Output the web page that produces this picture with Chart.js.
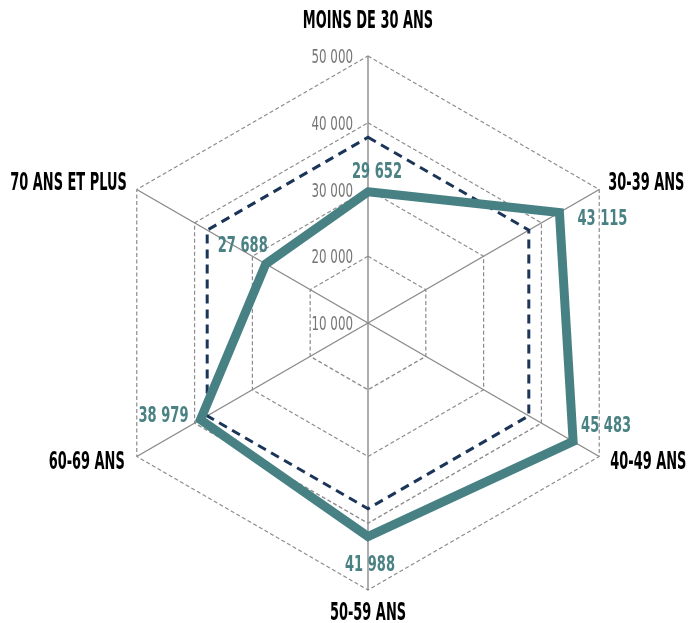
<!DOCTYPE html>
<html><head><meta charset="utf-8">
<script src="https://cdn.jsdelivr.net/npm/chart.js@4.4.1/dist/chart.umd.min.js"></script>
<style>html,body{margin:0;padding:0;background:#fff}#wrap{width:690px;height:623px}</style>
</head><body><div id="wrap"><canvas id="c" width="690" height="623"></canvas></div>
<script>
const categories = ["MOINS DE 30 ANS", "30-39 ANS", "40-49 ANS", "50-59 ANS", "60-69 ANS", "70 ANS ET PLUS"];
const revenus = [29652, 43115, 45483, 41988, 38979, 27688];
const moyenne = [37818, 37818, 37818, 37818, 37818, 37818];
const tickValues = [10000, 20000, 30000, 40000, 50000];

const FONT = '"Liberation Sans Narrow","DejaVu Sans Condensed","Roboto Condensed",sans-serif';
function fmt(v){ return String(v).replace(/\B(?=(\d{3})+(?!\d))/g, ' '); }

function drawText(ctx, txt, x, y, size, color, align, sx, weight){
  ctx.save();
  ctx.font = (weight||'bold') + ' ' + size + 'px ' + FONT;
  ctx.fillStyle = color;
  ctx.textBaseline = 'middle';
  const w = ctx.measureText(txt).width * sx;
  let x0 = x;
  if (align === 'center') x0 = x - w/2;
  else if (align === 'right') x0 = x - w;
  ctx.translate(x0, y);
  ctx.scale(sx, 1);
  ctx.textAlign = 'left';
  ctx.fillText(txt, 0, 0);
  ctx.restore();
}

const labelPlugin = {
  id: 'labels',
  afterDraw(chart){
    const ctx = chart.ctx;
    const s = chart.scales.r;
    tickValues.forEach(v => {
      const p = s.getPointPositionForValue(0, v);
      drawText(ctx, fmt(v), p.x - 15, p.y + 2, 20, '#767676', 'right', 0.66, 'normal');
    });
    const offs = [[0,-34,'center'],[9,-6,'left'],[11,6,'left'],[0,24,'center'],[-12,6,'right'],[-10,-6,'right']];
    categories.forEach((c,i) => {
      const p = s.getPointPositionForValue(i, 50000);
      drawText(ctx, c, p.x + offs[i][0], p.y + offs[i][1], 24, '#000', offs[i][2], 0.6, 'bold');
    });
    const meta = chart.getDatasetMeta(0);
    const doffs = [[9,-20,'center'],[18,7,'left'],[8,-15,'left'],[2,29,'center'],[-12,-3,'right'],[2,-18,'right']];
    meta.data.forEach((pt,i) => {
      drawText(ctx, fmt(revenus[i]), pt.x + doffs[i][0], pt.y + doffs[i][1], 22, '#4a8183', doffs[i][2], 0.66, 'bold');
    });
  }
};

new Chart(document.getElementById('c'), {
  type: 'radar',
  data: {
    labels: categories,
    datasets: [
      { label: 'Revenu', data: revenus, borderColor: '#478184', borderWidth: 9, fill: false, pointRadius: 0, borderJoinStyle: 'miter', order: 1 },
      { label: 'Moyenne', data: moyenne, borderColor: '#1b3558', borderWidth: 3, borderDash: [9, 6], fill: false, pointRadius: 0, borderJoinStyle: 'miter', order: 2 }
    ]
  },
  options: {
    responsive: false,
    animation: false,
    layout: { padding: { left: 101, right: 55, top: 56, bottom: 33 } },
    plugins: { legend: { display: false }, tooltip: { enabled: false } },
    scales: {
      r: {
        min: 10000, max: 50000,
        ticks: { stepSize: 10000, display: false },
        pointLabels: { display: false },
        grid: { color: '#8c8c8c', lineWidth: 1.2 },
        border: { dash: [4, 2.5] },
        angleLines: { color: '#8a8a8a', lineWidth: 1.4 }
      }
    }
  },
  plugins: [labelPlugin]
});
</script></body></html>
